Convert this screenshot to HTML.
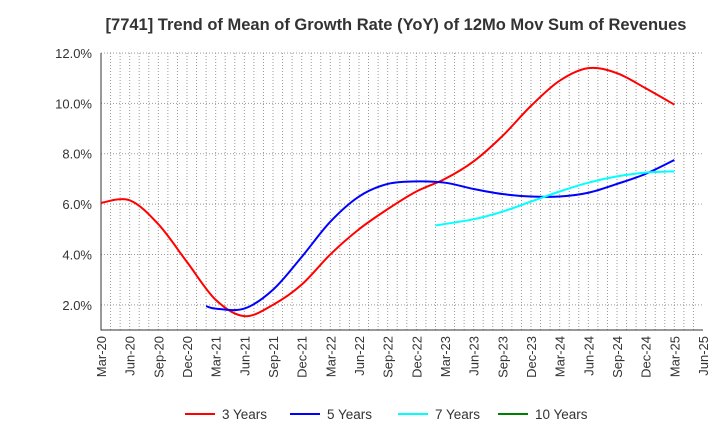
<!DOCTYPE html>
<html><head><meta charset="utf-8"><style>
body{margin:0;background:#fff;font-family:"Liberation Sans",sans-serif}
svg text{font-family:"Liberation Sans",sans-serif}
</style></head><body>
<svg id="c" width="720" height="440" xmlns="http://www.w3.org/2000/svg">
<text x="396" y="30" text-anchor="middle" font-size="16.5" font-weight="bold" fill="#333">[7741]  Trend of Mean of Growth Rate (YoY) of 12Mo Mov Sum of Revenues</text>
<g id="grid"></g><g id="axes"></g><g id="series"></g>
<g id="legend"></g>
</svg>
<script>
const xLabels=["Mar-20","Jun-20","Sep-20","Dec-20","Mar-21","Jun-21","Sep-21","Dec-21","Mar-22","Jun-22","Sep-22","Dec-22","Mar-23","Jun-23","Sep-23","Dec-23","Mar-24","Jun-24","Sep-24","Dec-24","Mar-25","Jun-25"];
const yTicks=[2,4,6,8,10,12];
const m3=[0,3,6,9,12,15,18,21,24,27,30,33,36,39,42,45,48,51,54,57,60];
const s3=[6.05,6.15,5.2,3.7,2.2,1.55,2.0,2.8,4.0,5.0,5.8,6.5,7.0,7.7,8.7,9.9,10.9,11.4,11.2,10.6,9.95];
const m5=[11,12,15,18,21,24,27,30,33,36,39,42,45,48,51,54,57,60];
const s5=[1.95,1.85,1.85,2.6,3.9,5.3,6.3,6.8,6.9,6.85,6.6,6.4,6.3,6.3,6.45,6.8,7.2,7.75];
const m7=[35,39,42,45,48,51,54,57,60];
const s7=[5.15,5.4,5.7,6.1,6.5,6.85,7.1,7.25,7.3];
const L=101,R=703,T=53,B=330,yMin=1,yMax=12,months=63;
const xs=m=>L+m*(R-L)/months, ys=v=>T+(yMax-v)*(B-T)/(yMax-yMin);
const NS="http://www.w3.org/2000/svg";
function mk(tag,attrs,parent,text){const e=document.createElementNS(NS,tag);for(const k in attrs)e.setAttribute(k,attrs[k]);if(text!==undefined)e.textContent=text;document.getElementById(parent).appendChild(e);return e;}
for(let m=1;m<months;m++){const l=mk('line',{x1:xs(m),x2:xs(m),y1:T,y2:B,stroke:'#999','stroke-dasharray':'1,2','stroke-width':1},'grid');

}
yTicks.forEach(v=>{const l=mk('line',{x1:L,x2:R,y1:ys(v),y2:ys(v),stroke:'#999','stroke-dasharray':'1,2'},'grid');


const t=mk('text',{x:L-9,y:ys(v)+5,'text-anchor':'end','font-size':13,fill:'#333'},'axes',v.toFixed(1)+'%');

});
const ax=mk('path',{d:`M${L},${T}V${B}H${R}`,fill:'none',stroke:'#333','stroke-width':1},'axes');


xLabels.forEach((s,i)=>{const x=xs(i*3);const t=mk('text',{x:0,y:0,transform:`translate(${x+5},${B+6}) rotate(-90)`,'text-anchor':'end','font-size':13,fill:'#333'},'axes',s);

});
function path(ms,vs){const p=ms.map((m,i)=>[xs(m),ys(vs[i])]);let d=`M${p[0][0]},${p[0][1]}`;
for(let i=0;i<p.length-1;i++){const p0=p[i-1]||p[i],p1=p[i],p2=p[i+1],p3=p[i+2]||p2;
d+=`C${p1[0]+(p2[0]-p0[0])/6},${p1[1]+(p2[1]-p0[1])/6} ${p2[0]-(p3[0]-p1[0])/6},${p2[1]-(p3[1]-p1[1])/6} ${p2[0]},${p2[1]}`;}return d;}
[[m3,s3,'#ff0000','series-3-years'],[m5,s5,'#0000ff','series-5-years'],[m7,s7,'#00ffff','series-7-years']].forEach(([m,s,c,n])=>{
const e=mk('path',{d:path(m,s),fill:'none',stroke:c,'stroke-width':2},'series');

});
[['3 Years','#ff0000',185],['5 Years','#0000ff',290],['7 Years','#00ffff',398],['10 Years','#008000',498]].forEach(([s,c,x])=>{
const l=mk('line',{x1:x,x2:x+30,y1:414,y2:414,stroke:c,'stroke-width':2},'legend');


const t=mk('text',{x:x+37,y:419,'font-size':13.5,fill:'#333'},'legend',s);

});
</script>
</body></html>
